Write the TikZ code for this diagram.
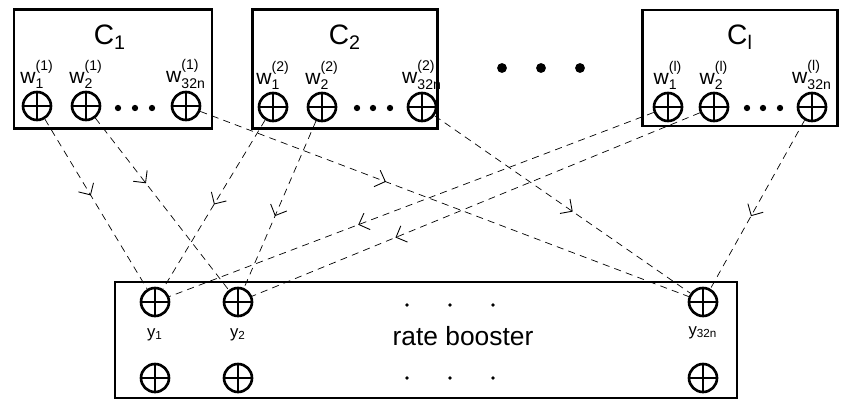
\documentclass[tikz,border=0pt]{standalone}
\usepackage{amsmath}
\usepackage{fontspec}
\setmainfont{Liberation Sans}
\usetikzlibrary{
    positioning,
    arrows.meta,
    decorations.markings
}
\tikzset{
    >=Stealth,
    blockbox/.style={
        draw,
        line width=1.6pt,
        inner sep=0pt
    },
    oplus/.style={
        circle,
        draw,
        line width=1.5pt,
        minimum size=0.56cm,
        inner sep=0pt,
        path picture={
            \draw[line width=1.1pt]
                (path picture bounding box.north) -- (path picture bounding box.south)
                (path picture bounding box.west) -- (path picture bounding box.east);
        }
    },
    clabel/.style={
        font=\fontsize{16}{19}\selectfont,
        inner sep=0pt
    },
    wlabel/.style={
        font=\fontsize{12}{14}\selectfont,
        inner sep=0pt
    },
    ylabel/.style={
        font=\fontsize{9.5}{11}\selectfont,
        inner sep=0pt
    },
    conn/.style={
        draw,
        line width=0.4pt,
        dash pattern=on 4pt off 3pt
    },
    flowarrow/.style={
        postaction={decorate},
        decoration={
            markings,
            mark=at position #1 with {\arrow{Straight Barb[length=5pt,width=10pt,line width=0.5pt]}}
        }
    }
}
% peso con superindice elevado
\newcommand{\wsum}[2]{w$^{\text{\raisebox{3pt}{(#1)}}}_{\text{#2}}$}

\begin{document}
\begin{tikzpicture}[
    x=0.02cm,
    y=-0.02cm
]
    \useasboundingbox (0,0) rectangle (865,419);

    % Bloques
    \node[blockbox, minimum width=3.96cm, minimum height=2.38cm] (C1) at (113,69)  {};
    \node[blockbox, minimum width=3.70cm, minimum height=2.38cm] (C2) at (345,69)  {};
    \node[blockbox, minimum width=3.90cm, minimum height=2.32cm] (Cl) at (740,68)  {};
    \node[blockbox, minimum width=12.44cm, minimum height=2.32cm] (RB) at (426,340) {};

    % Nombres de bloques
    \node[clabel] (C1lab) at (110,37) {C$_{\text{1}}$};
    \node[clabel] (C2lab) at (345,37) {C$_{\text{2}}$};
    \node[clabel] (Cllab) at (740,37) {C$_{\text{l}}$};
    \node[font=\fontsize{15}{18}\selectfont] (RBlab) at (463,336) {rate booster};

    % Sumadores
    \node[oplus] (c1w1) at (37,106)  {};
    \node[oplus] (c1w2) at (86,106)  {};
    \node[oplus] (c1wn) at (186,106) {};
    \node[oplus] (c2w1) at (273,107) {};
    \node[oplus] (c2w2) at (322,107) {};
    \node[oplus] (c2wn) at (422,107) {};
    \node[oplus] (clw1) at (668,107) {};
    \node[oplus] (clw2) at (714,107) {};
    \node[oplus] (clwn) at (812,107) {};
    \node[oplus] (y1)   at (155,302) {};
    \node[oplus] (y2)   at (238,302) {};
    \node[oplus] (yn)   at (703,302) {};
    \node[oplus] (z1)   at (155,378) {};
    \node[oplus] (z2)   at (238,378) {};
    \node[oplus] (zn)   at (703,378) {};

    % Etiquetas
    \node[wlabel, above=1pt of c1w1] (c1w1lab) {\wsum{1}{1}};
    \node[wlabel, above=1pt of c1w2] (c1w2lab) {\wsum{1}{2}};
    \node[wlabel, above=1pt of c1wn] (c1wnlab) {\wsum{1}{32n}};
    \node[wlabel, above=1pt of c2w1] (c2w1lab) {\wsum{2}{1}};
    \node[wlabel, above=1pt of c2w2] (c2w2lab) {\wsum{2}{2}};
    \node[wlabel, above=1pt of c2wn] (c2wnlab) {\wsum{2}{32n}};
    \node[wlabel, above=1pt of clw1] (clw1lab) {\wsum{l}{1}};
    \node[wlabel, above=1pt of clw2] (clw2lab) {\wsum{l}{2}};
    \node[wlabel, above=1pt of clwn] (clwnlab) {\wsum{l}{32n}};
    \node[ylabel, below=6pt of y1] (y1lab) {y$_{\text{1}}$};
    \node[ylabel, below=6pt of y2] (y2lab) {y$_{\text{2}}$};
    \node[ylabel, below=5pt of yn] (ynlab) {y$_{\text{32n}}$};

    % Puntos
    \foreach \x in {118,135,152} \fill (\x,108) circle (1.8pt);
    \foreach \x in {357,373,390} \fill (\x,108) circle (1.8pt);
    \foreach \x in {747,763,780} \fill (\x,108) circle (1.8pt);
    \foreach \x in {502,541,580} \fill (\x,68) circle (2.8pt);
    \foreach \x in {407,450,493} {
        \fill (\x,305) circle (1.1pt);
        \fill (\x,378) circle (1.1pt);
    }

    % Conexiones
    \path[conn]

        % C1
        (c1w1) edge[flowarrow=0.45] (y1)
        (c1w2) edge[flowarrow=0.38] (y2)
        (c1wn) edge[flowarrow=0.38] (yn)

        % C2
        (c2w1) edge[flowarrow=0.5]  (y1)
        (c2w2) edge[flowarrow=0.57] (y2)
        (c2wn) edge[flowarrow=0.54] (yn)

        % Cl
        (clw1) edge[flowarrow=0.61] (y1)
        (clw2) edge[flowarrow=0.68] (y2)
        (clwn) edge[flowarrow=0.57] (yn);

\end{tikzpicture}
\end{document}
